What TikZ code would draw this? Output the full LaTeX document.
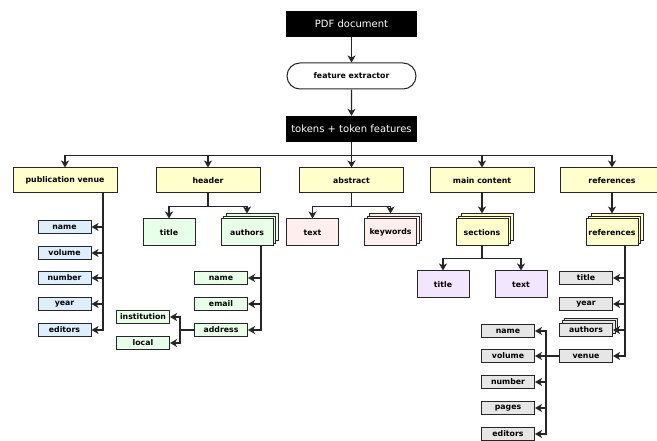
\documentclass[tikz,border=0pt]{standalone}
\usepackage{fontspec}
\setmainfont{DejaVu Sans}
\usetikzlibrary{arrows.meta,shadows,shapes.misc}
\definecolor{cyel}{HTML}{FFFFCC}
\definecolor{cblue}{HTML}{DDEEFF}
\definecolor{cgreen}{HTML}{E8FFE8}
\definecolor{cpink}{HTML}{FFEEEE}
\definecolor{cpurp}{HTML}{F2E6FF}
\definecolor{cgrey}{HTML}{E6E6E6}
\tikzset{
  base/.style={draw=black!85, line width=1pt, inner sep=0pt, font=\fontsize{7.8}{8}\selectfont\bfseries},
  blk/.style={fill=black, text=white, minimum width=131pt, minimum height=26pt, inner sep=0pt, font=\fontsize{10}{11}\selectfont},
  pill/.style={base, rounded rectangle, fill=white, minimum width=129pt, minimum height=26pt},
  lone/.style={base, fill=cyel, minimum width=104pt, minimum height=25pt},
  ltwo/.style={base, fill=#1, minimum width=52pt, minimum height=27pt},
  sm/.style={base, fill=#1, minimum width=53pt, minimum height=13pt},
  stack/.style={double copy shadow={shadow xshift=2.6pt, shadow yshift=2.6pt, fill=#1, draw=black!85, line width=0.8pt}},
  arr/.style={line width=1.3pt, draw=black!85, -{Stealth[length=7pt,width=8pt,inset=2pt]}},
}
\begin{document}
\begin{tikzpicture}[x=1pt,y=-1pt]
\useasboundingbox (0,0) rectangle (657,441);
% top chain
\node[blk] (pdf) at (351.5,24) {PDF document};
\node[pill] (fe) at (351.5,76) {feature extractor};
\node[blk] (tok) at (351.5,129) {tokens + token features};
\draw[arr] (pdf) -- (fe);
\draw[arr] (fe) -- (tok);
% level 1
\node[lone] (pv) at (65,180.5) {publication venue};
\node[lone] (hd) at (208,180.5) {header};
\node[lone] (ab) at (351.5,180.5) {abstract};
\node[lone] (mc) at (482,180.5) {main content};
\node[lone] (rf) at (612,180.5) {references};
\foreach \n in {pv,hd,ab,mc,rf} \draw[arr] (tok.south) -- ++(0,13) -| (\n.north);
% publication venue children
\foreach \n/\y in {name/227,volume/253,number/278,year/304,editors/330}
  \node[sm=cblue] (pv-\n) at (64.5,\y) {\n};
\coordinate (pvbus) at (103,193);
\foreach \n in {name,volume,number,year,editors} \draw[arr] (pvbus) |- (pv-\n.east);
% header children
\node[ltwo=cgreen] (hti) at (169,232.5) {title};
\node[ltwo=cgreen, stack=cgreen] (hau) at (247,232.5) {authors};
\draw[arr] (hd.south) -- ++(0,13) -| (hti.north);
\draw[arr] (hd.south) -- ++(0,13) -| ([yshift=5pt]hau.north);
\foreach \n/\y in {name/278,email/304,address/330}
  \node[sm=cgreen] (au-\n) at (221,\y) {\n};
\coordinate (aubus) at (261,246);
\foreach \n in {name,email,address} \draw[arr] (aubus) |- (au-\n.east);
\node[sm=cgreen] (inst) at (143,317) {institution};
\node[sm=cgreen] (loc) at (143,343) {local};
\draw[arr] (au-address.west) -- ++(-14,0) |- (inst.east);
\draw[arr] (au-address.west) -- ++(-14,0) |- (loc.east);
% abstract children
\node[ltwo=cpink] (atx) at (312.5,232.5) {text};
\node[ltwo=cpink, stack=cpink] (akw) at (390.5,232.5) {keywords};
\draw[arr] (ab.south) -- ++(0,13) -| (atx.north);
\draw[arr] (ab.south) -- ++(0,13) -| ([yshift=5pt]akw.north);
% main content children
\node[ltwo=cyel, stack=cyel] (sec) at (482,232.5) {sections};
\draw[arr] (mc.south) -- ([yshift=5pt]sec.north);
\node[ltwo=cpurp] (sti) at (443,284.5) {title};
\node[ltwo=cpurp] (stx) at (521,284.5) {text};
\draw[arr] (sec.south) -- ++(0,12) -| (sti.north);
\draw[arr] (sec.south) -- ++(0,12) -| (stx.north);
% references children
\node[ltwo=cyel, stack=cyel] (rf2) at (612,232.5) {references};
\draw[arr] (rf.south) -- ([yshift=5pt]rf2.north);
\node[sm=cgrey] (r-title) at (586,278) {title};
\node[sm=cgrey] (r-year) at (586,304) {year};
\node[sm=cgrey, stack=cgrey] (r-authors) at (586,330) {authors};
\node[sm=cgrey] (r-venue) at (586,356) {venue};
\coordinate (rfbus) at (625,246);
\foreach \n in {title,year,authors,venue} \draw[arr] (rfbus) |- (r-\n.east);
\foreach \n/\y in {name/331,volume/356,number/382,pages/408,editors/434}
  \node[sm=cgrey] (v-\n) at (508,\y) {\n};
\foreach \n in {name,volume,number,pages,editors} \draw[arr] (r-venue.west) -- ++(-13,0) |- (v-\n.east);
\end{tikzpicture}
\end{document}
